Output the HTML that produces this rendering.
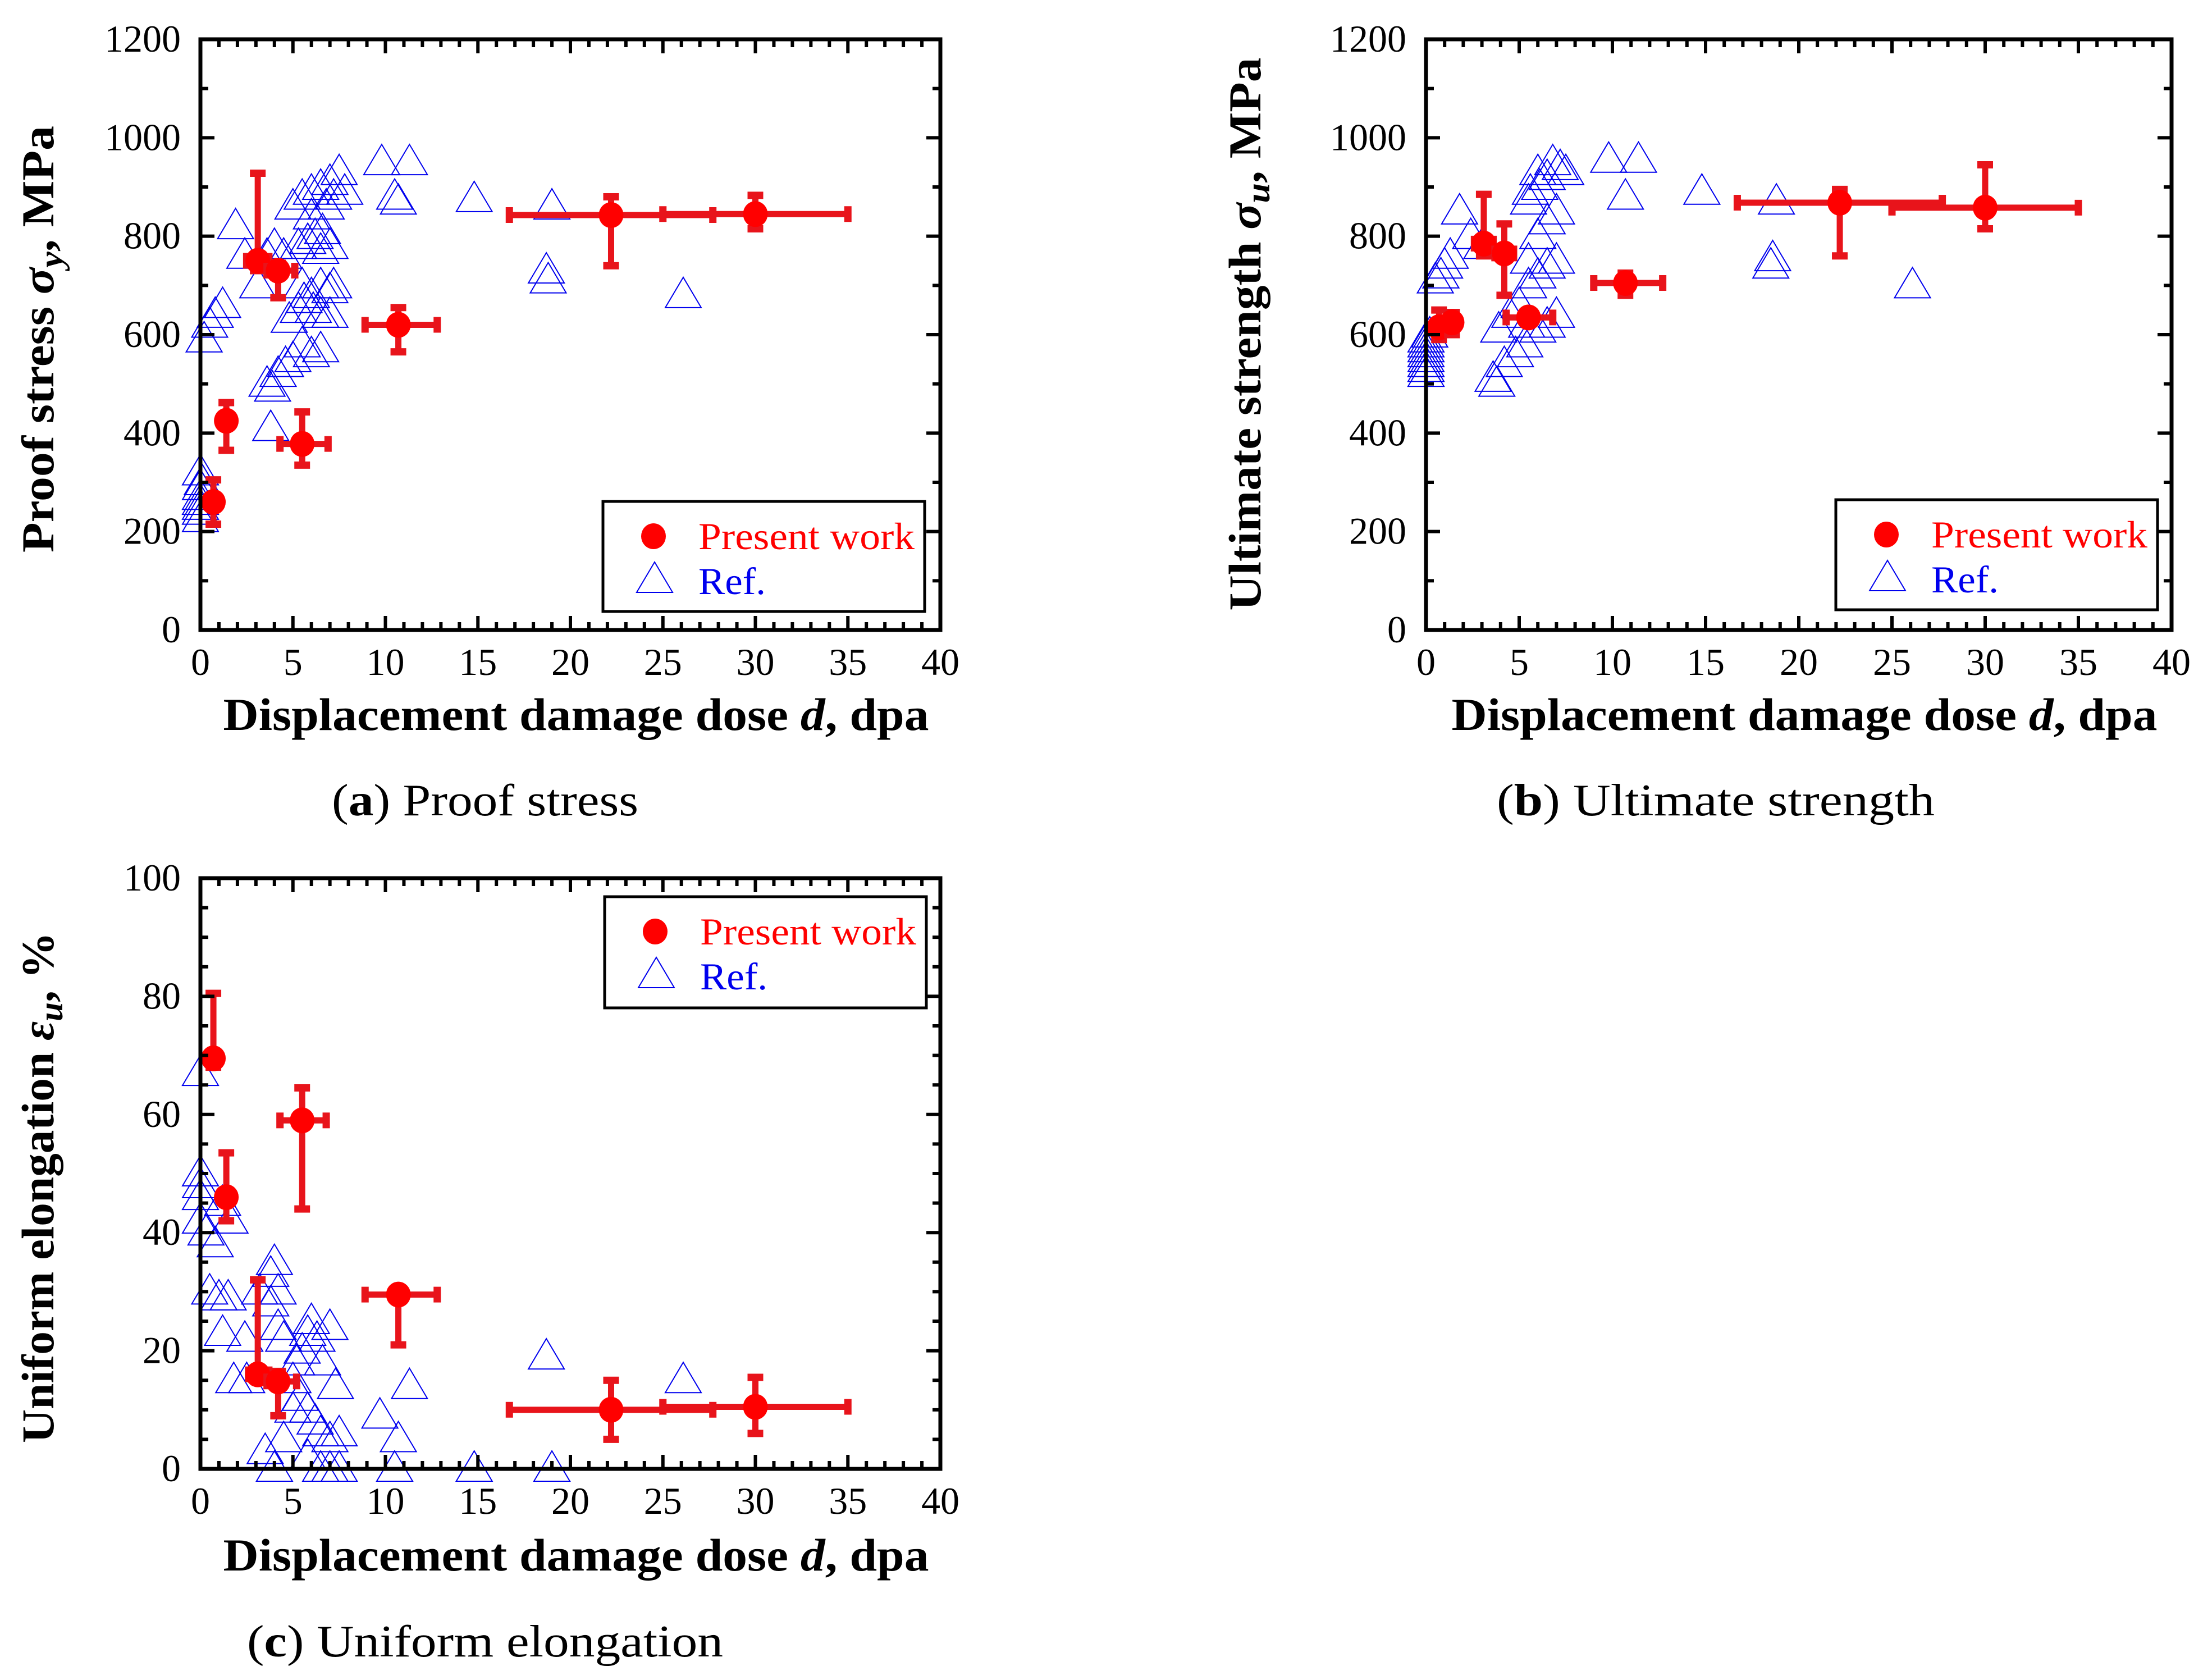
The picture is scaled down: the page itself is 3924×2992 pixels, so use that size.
<!DOCTYPE html>
<html><head><meta charset="utf-8"><style>
html,body{margin:0;padding:0;background:#fff}
svg{display:block}
svg text{font-family:"Liberation Serif","Times New Roman",serif}
</style></head><body>
<svg id="fig" width="3924" height="2992" viewBox="0 0 3924 2992" xmlns="http://www.w3.org/2000/svg" font-family="Liberation Serif, serif">
<rect width="3924" height="2992" fill="#fff"/>
<g id="pa"></g>
<g id="pb"></g>
<g id="pc"></g>
</svg>
<script>
// ---- data ----
const presentA_x = [0.7,1.4,3.1,4.2,5.5,10.7,22.2,30];
const presentA_y = [260,425,750,730,378,620,843,845];
const presentA_ylo = [215,365,730,675,335,565,740,815];
const presentA_yhi = [305,462,928,745,443,655,880,883];
const presentA_xlo = [0.6,1.3,2.5,3.6,4.3,8.9,16.7,25];
const presentA_xhi = [0.8,1.5,3.7,5.1,6.9,12.8,27.7,35];
const refA_x = [0,0,0,0,0,0,0,0.1,0.2,0.5,0.8,1.2,1.9,2.4,3.1,3.6,4.0,4.5,3.6,3.9,4.2,4.6,5.0,3.8,5.5,6.0,6.5,4.8,5.3,5.6,6.1,6.5,7,5.5,6,6.5,7,7.2,5.3,5.8,6.2,6.6,7.0,6.5,5.0,5.5,6.0,6.5,7.0,7.5,7.2,7.8,6.8,6.0,9.8,11.3,10.7,10.5,14.8,18.7,18.8,19,26.1];
const refA_y = [225,240,250,260,270,290,320,300,590,620,640,660,820,760,700,760,780,760,500,490,520,540,550,410,580,560,570,630,650,670,650,640,640,700,680,700,690,700,780,790,800,810,780,770,860,880,890,900,910,930,880,890,860,840,950,950,870,880,875,730,710,860,680];

const presentB_x = [0.7,1.4,3.1,4.2,5.5,10.7,22.2,30];
const presentB_y = [615,625,785,765,635,705,868,858];
const presentB_ylo = [590,600,760,680,625,680,760,815];
const presentB_yhi = [650,645,885,825,645,725,895,945];
const presentB_xlo = [0.6,1.3,2.6,3.7,4.3,9.0,16.7,25];
const presentB_xhi = [0.8,1.5,3.6,4.7,6.8,12.7,27.7,35];
const refB_x = [0,0,0,0,0,0,0,0,0.2,0.5,0.8,1,1.3,1.8,2.4,3,3.6,3.8,4.2,4.8,5.3,3.9,4.5,5.0,5.5,6,6.5,7,5.4,6,6.5,7,5.5,6,6.5,7,5.6,6.1,6.5,6.8,7.2,7.5,6,5.5,9.8,11.4,10.7,14.8,18.5,18.6,18.8,26.1];
const refB_y = [520,530,540,550,560,570,580,590,600,710,720,740,760,850,800,780,510,500,540,560,580,610,640,660,700,720,740,750,620,610,620,640,750,800,830,850,890,900,920,950,940,930,930,870,955,955,880,890,740,755,870,700];

const presentC_x = [0.7,1.4,3.1,4.2,5.5,10.7,22.2,30];
const presentC_y = [69.5,46,16,14.8,59,29.5,10,10.5];
const presentC_ylo = [68,42,15,9,44,21,5,6];
const presentC_yhi = [80.5,53.5,32,16.5,64.5,29.5,15,15.5];
const presentC_xlo = [0.6,1.3,2.6,3.6,4.3,8.9,16.7,25];
const presentC_xhi = [0.8,1.5,3.7,5.2,6.8,12.8,27.7,35];
const refC_x = [0,0,0,0,0,0.3,0.8,1.2,1.6,0.5,1,1.5,1.2,2.4,1.8,2.5,3.2,3.8,4,4.2,3.8,4.2,4.5,3.5,4,4.5,5,5.2,5.5,5.8,6,6.3,6.6,7,7.3,5.4,5.8,6.2,6.5,7,7.5,6.5,7,7.5,5.8,5,9.7,10.7,11.3,10.5,14.8,18.7,19,26.1];
const refC_y = [67,50,48,46,42,40,38,45,42,30,29,29,23,22,15,15,30,33,35,30,28,24,22,3,0,5,15,18,20,23,25,22,18,24,14,12,10,8,6,5,6,0,0,0,2,10,9,5,14,0,0,19,0,15];

const xTicks = [0,5,10,15,20,25,30,35,40];
const yTicksAB = [0,200,400,600,800,1000,1200];
const yTicksC = [0,20,40,60,80,100];

const NS = "http://www.w3.org/2000/svg";
const FF = "Liberation Serif, serif";
function mk(parent, tag, attrs, txt){
  const e = document.createElementNS(NS, tag);
  for (const k in attrs) e.setAttribute(k, attrs[k]);
  if (tag === 'text') e.setAttribute('font-family', FF);
  if (txt !== undefined) e.textContent = txt;
  parent.appendChild(e);
  return e;
}

function panel(g, L, R, T, B, ymax, yTicks, yMinorStep, xs, ys, ylo, yhi, xlo, xhi, rx, ry, legend, ytitle, xtitleY, captionCfg){
  const sx = v => L + (R - L) * v / 40;
  const sy = v => B - (B - T) * v / ymax;
  const rg = mk(g, 'g', {});
  
  
  for (let i = 0; i < rx.length; i++){
    const cx = sx(rx[i]), cy = sy(ry[i]);
    const t = mk(rg, 'polygon', {points:`${cx-32},${cy+22} ${cx+32},${cy+22} ${cx},${cy-32}`, fill:'none', stroke:'#0000ee', 'stroke-width':2});
    
    
  }
  const pg = mk(g, 'g', {});
  
  
  for (let i = 0; i < xs.length; i++){
    const cx = sx(xs[i]), cy = sy(ys[i]);
    const eg = mk(pg, 'g', {stroke:'#e8141b', 'stroke-width':11, fill:'none'});
    
    
    mk(eg, 'line', {x1:cx, y1:sy(ylo[i]), x2:cx, y2:sy(yhi[i])});
    mk(eg, 'line', {x1:cx-14, y1:sy(ylo[i]), x2:cx+14, y2:sy(ylo[i]), 'stroke-width':13});
    mk(eg, 'line', {x1:cx-14, y1:sy(yhi[i]), x2:cx+14, y2:sy(yhi[i]), 'stroke-width':13});
    mk(eg, 'line', {x1:sx(xlo[i]), y1:cy, x2:sx(xhi[i]), y2:cy});
    mk(eg, 'line', {x1:sx(xlo[i]), y1:cy-14, x2:sx(xlo[i]), y2:cy+14, 'stroke-width':13});
    mk(eg, 'line', {x1:sx(xhi[i]), y1:cy-14, x2:sx(xhi[i]), y2:cy+14, 'stroke-width':13});
    const c = mk(pg, 'ellipse', {cx:cx, cy:cy, rx:22, ry:23, fill:'#ff0000'});
    
    
  }
  const tg = mk(g, 'g', {stroke:'#000', 'stroke-width':6});
  
  
  for (let v = 0; v <= 40; v++){
    const x = sx(v), len = (v % 5 === 0) ? 25 : 14;
    mk(tg, 'line', {x1:x, y1:B, x2:x, y2:B-len});
    mk(tg, 'line', {x1:x, y1:T, x2:x, y2:T+len});
  }
  for (let v = 0; v <= ymax + 1e-9; v += yMinorStep){
    const y = sy(v), major = yTicks.some(t => Math.abs(t - v) < 1e-6), len = major ? 25 : 14;
    mk(tg, 'line', {x1:L, y1:y, x2:L+len, y2:y});
    mk(tg, 'line', {x1:R, y1:y, x2:R-len, y2:y});
  }
  const frame = mk(g, 'rect', {x:L, y:T, width:R-L, height:B-T, fill:'none', stroke:'#000', 'stroke-width':7});
  
  
  for (const v of xTicks){
    const t = mk(g, 'text', {x:sx(v), y:B+80, 'font-size':68, 'text-anchor':'middle'}, String(v));
    
    
  }
  for (const v of yTicks){
    const t = mk(g, 'text', {x:L-35, y:sy(v)+22, 'font-size':68, 'text-anchor':'end'}, String(v));
    
    
  }
  const lg = mk(g, 'g', {});
  
  
  const [lx, ly, lw, lh] = legend;
  mk(lg, 'rect', {x:lx, y:ly, width:lw, height:lh, fill:'#fff', stroke:'#000', 'stroke-width':5});
  const le1 = mk(lg, 'g', {});
  
  
  mk(le1, 'ellipse', {cx:lx+90, cy:ly+62, rx:22, ry:23, fill:'#ff0000'});
  mk(le1, 'text', {x:lx+170, y:ly+85, 'font-size':68, fill:'#ff0000', textLength:385, lengthAdjust:'spacingAndGlyphs'}, 'Present work');
  const le2 = mk(lg, 'g', {});
  
  
  const tx = lx+92, ty = ly+140;
  mk(le2, 'polygon', {points:`${tx-32},${ty+22} ${tx+32},${ty+22} ${tx},${ty-32}`, fill:'none', stroke:'#0000ee', 'stroke-width':2});
  mk(le2, 'text', {x:lx+170, y:ly+165, 'font-size':68, fill:'#0000ee', textLength:120, lengthAdjust:'spacingAndGlyphs'}, 'Ref.');
  const [ytx, yty, ylen, main, sym, sub, unit] = ytitle;
  const yt = mk(g, 'text', {x:0, y:0, 'font-size':82, 'font-weight':'bold', 'text-anchor':'middle', transform:`translate(${ytx},${yty}) rotate(-90)`, textLength:ylen, lengthAdjust:'spacingAndGlyphs'});
  
  
  mk(yt, 'tspan', {}, main + ' ');
  mk(yt, 'tspan', {'font-style':'italic'}, sym);
  mk(yt, 'tspan', {'font-style':'italic', 'font-size':60, dy:16}, sub);
  mk(yt, 'tspan', {dy:-16}, ', ' + unit);
  const xt = mk(g, 'text', {x:(L+R)/2 + 10, y:xtitleY, 'font-size':82, 'font-weight':'bold', 'text-anchor':'middle', textLength:1257, lengthAdjust:'spacingAndGlyphs'});
  
  
  mk(xt, 'tspan', {}, 'Displacement damage dose ');
  mk(xt, 'tspan', {'font-style':'italic'}, 'd');
  mk(xt, 'tspan', {}, ', dpa');
  const [ccx, ccy, clen, letter, ctext] = captionCfg;
  const cp = mk(g, 'text', {x:ccx, y:ccy, 'font-size':80, textLength:clen, lengthAdjust:'spacingAndGlyphs'});
  
  
  mk(cp, 'tspan', {}, '(');
  mk(cp, 'tspan', {'font-weight':'bold'}, letter);
  mk(cp, 'tspan', {}, ') ' + ctext);
}

panel(document.getElementById('pa'), 357, 1675, 70, 1122, 1200, yTicksAB, 100,
  presentA_x, presentA_y, presentA_ylo, presentA_yhi, presentA_xlo, presentA_xhi,
  refA_x, refA_y, [1074, 893, 573, 196],
  [95, 604, 760, 'Proof stress', 'σ', 'y', 'MPa'], 1300,
  [591, 1452, 546, 'a', 'Proof stress']);
panel(document.getElementById('pb'), 2540, 3868, 70, 1122, 1200, yTicksAB, 100,
  presentB_x, presentB_y, presentB_ylo, presentB_yhi, presentB_xlo, presentB_xhi,
  refB_x, refB_y, [3270, 890, 573, 196],
  [2245, 595, 985, 'Ultimate strength', 'σ', 'u', 'MPa'], 1300,
  [2666, 1452, 780, 'b', 'Ultimate strength']);
panel(document.getElementById('pc'), 357, 1675, 1564, 2616, 100, yTicksC, 5,
  presentC_x, presentC_y, presentC_ylo, presentC_yhi, presentC_xlo, presentC_xhi,
  refC_x, refC_y, [1077, 1597, 573, 198],
  [95, 2115, 910, 'Uniform elongation', 'ε', 'u', '%'], 2797,
  [440, 2950, 848, 'c', 'Uniform elongation']);
</script>
</body></html>
